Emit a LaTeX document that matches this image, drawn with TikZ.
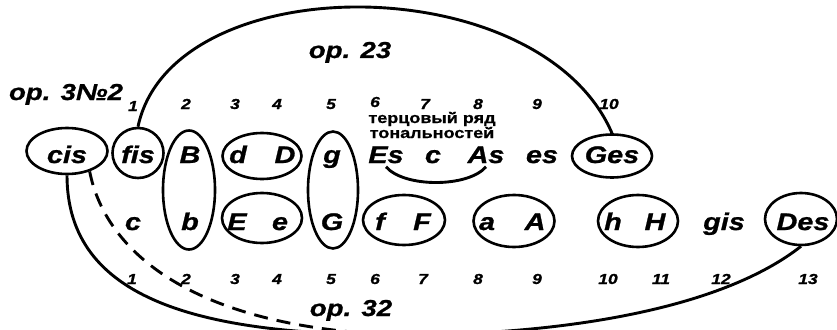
\documentclass[tikz,border=0pt]{standalone}
\usepackage{fontspec}
\setmainfont{Liberation Sans}[FakeStretch=1.2, FakeBold=1]
\usetikzlibrary{shapes.geometric}
\begin{document}
\begin{tikzpicture}[x=1pt,y=-1pt,
  ov/.style={draw, ellipse, line width=2.6pt, inner sep=0pt},
  nm/.style={anchor=base, font=\fontsize{24}{26}\selectfont\bfseries\itshape},
  num/.style={anchor=base, font=\fontsize{14.5}{16}\selectfont\bfseries\itshape},
  oplab/.style={anchor=base, font=\fontsize{23}{26}\selectfont\bfseries\itshape},
  ru/.style={anchor=base, font=\fontsize{15}{15}\selectfont\bfseries},
  curve/.style={line width=2.9pt}]
\useasboundingbox (0,0) rectangle (837,329);
\clip (0,0) rectangle (837,329);

% ellipses
\node[ov, minimum width=81pt, minimum height=46pt] (Ecis) at (67,151) {};
\node[ov, minimum width=51pt, minimum height=50pt] (Efis) at (138,153) {};
\node[ov, minimum width=52pt, minimum height=119pt] (EBb) at (189,190) {};
\node[ov, minimum width=79pt, minimum height=46pt] (EdD) at (262,156) {};
\node[ov, minimum width=50pt, minimum height=117pt] (Eg) at (333,190) {};
\node[ov, minimum width=80pt, minimum height=43pt] (EGes) at (612,156) {};
\node[ov, minimum width=80pt, minimum height=50pt] (EEe) at (262,218) {};
\node[ov, minimum width=82pt, minimum height=50pt] (EfF) at (404,220) {};
\node[ov, minimum width=81pt, minimum height=52pt] (EaA) at (514,221) {};
\node[ov, minimum width=80pt, minimum height=52pt] (EhH) at (638,221) {};
\node[ov, minimum width=72pt, minimum height=52pt] (EDes) at (801,219) {};

% top row
\node[nm] (cis) at (67,163) {cis};
\node[nm] (fis) at (138,163) {fis};
\node[nm] (B) at (190,163) {B};
\node[nm] (d) at (238,163) {d};
\node[nm] (D) at (285,163) {D};
\node[nm] (g) at (332,163) {g};
\node[nm] (Es) at (386,163) {Es};
\node[nm] (c1) at (433,163) {c};
\node[nm] (As) at (486,163) {As};
\node[nm] (es) at (542,163) {es};
\node[nm] (Ges) at (612,163) {Ges};

% bottom row
\node[nm] (c2) at (133,230) {c};
\node[nm] (b) at (190,230) {b};
\node[nm] (E) at (237,230) {E};
\node[nm] (e) at (280,230) {e};
\node[nm] (G) at (332,230) {G};
\node[nm] (f) at (380,230) {f};
\node[nm] (F) at (422,230) {F};
\node[nm] (a) at (487,230) {a};
\node[nm] (A) at (535,230) {A};
\node[nm] (h) at (613,230) {h};
\node[nm] (H) at (655,230) {H};
\node[nm] (gis) at (724,230) {gis};
\node[nm] (Des) at (803,230) {Des};

% top numbers
\node[num] (t1) at (133,111) {1};
\node[num] (t2) at (186,109) {2};
\node[num] (t3) at (235,109) {3};
\node[num] (t4) at (277,109) {4};
\node[num] (t5) at (331,109) {5};
\node[num] (t6) at (375,107) {6};
\node[num] (t7) at (425,109) {7};
\node[num] (t8) at (478,109) {8};
\node[num] (t9) at (537,109) {9};
\node[num] (t10) at (609,109) {10};

% bottom numbers
\node[num] (b1) at (132,284) {1};
\node[num] (b2) at (186,284) {2};
\node[num] (b3) at (235,284) {3};
\node[num] (b4) at (277,284) {4};
\node[num] (b5) at (331,284) {5};
\node[num] (b6) at (375,284) {6};
\node[num] (b7) at (423,284) {7};
\node[num] (b8) at (478,284) {8};
\node[num] (b9) at (537,284) {9};
\node[num] (b10) at (608,284) {10};
\node[num] (b11) at (661,284) {11};
\node[num] (b12) at (721,284) {12};
\node[num] (b13) at (808,284) {13};

% labels
\node[oplab] (op23) at (350,58) {op. 23};
\node[oplab] (op3) at (66,100) {op. 3№2};
\node[oplab] (op32) at (351,316) {op. 32};
\node[ru] (ru1) at (432,123) {терцовый ряд};
\node[ru] (ru2) at (432,138) {тональностей};

% connectors
\coordinate (low) at (400,335);
\draw[curve] (Efis.north) .. controls (172,-34) and (540,-34) .. (EGes.north);
\draw[curve] (Es.south) .. controls +(18,21) and +(-18,21) .. (As.south);
\draw[curve] (Ecis.south) .. controls (67,300) and (200,335) .. (low)
  .. controls (560,335) and (720,310) .. (EDes.south);
\draw[curve, dash pattern=on 14pt off 9pt] (Ecis.-42) .. controls (105,250) and (190,328) .. (low);
\end{tikzpicture}
\end{document}
